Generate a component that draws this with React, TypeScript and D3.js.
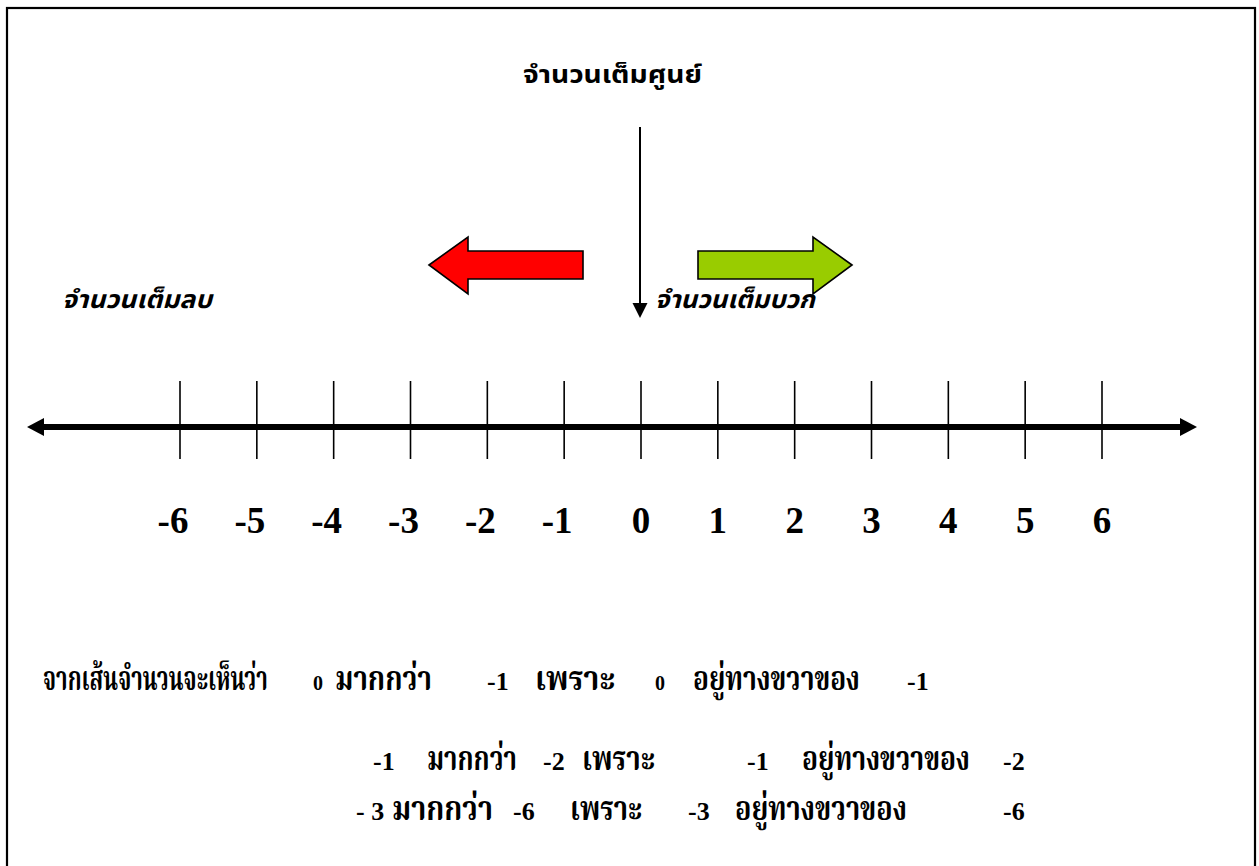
import React, { useLayoutEffect, useRef, useState } from "react";
import * as d3 from "d3";

const W = 1259;
const H = 866;

// ---- data ----
const tickValues = [-6, -5, -4, -3, -2, -1, 0, 1, 2, 3, 4, 5, 6];
const tickLabels = ["-6", "-5", "-4", "-3", "-2", "-1", "0", "1", "2", "3", "4", "5", "6"];
const titleText = "จำนวนเต็มศูนย์";
const negText = "จำนวนเต็มลบ";
const posText = "จำนวนเต็มบวก";
const line1 = ["จากเส้นจำนวนจะเห็นว่า", "0", "มากกว่า", "-1", "เพราะ", "0", "อยู่ทางขวาของ", "-1"];
const line2 = ["-1", "มากกว่า", "-2", "เพราะ", "-1", "อยู่ทางขวาของ", "-2"];
const line3 = ["- 3", "มากกว่า", "-6", "เพราะ", "-3", "อยู่ทางขวาของ", "-6"];

// ---- layout (segment start / end in px) ----
const line1Pos = [[43, 268], [313, 323], [335, 432], [487, 508], [535, 615], [655, 665], [693, 860], [907, 925]];
const line2Pos = [[373, 395], [427, 517], [543, 567], [582, 655], [747, 770], [802, 970], [1003, 1025]];
const line3Pos = [[356, 385], [392, 493], [513, 537], [570, 642], [688, 712], [735, 907], [1003, 1025]];

const thaiSans = "Tahoma, 'Noto Sans Thai', Loma, Garuda, 'Tlwg Typo', 'DejaVu Sans', 'Noto Sans', sans-serif";
const thaiSerif = "'Angsana New', 'AngsanaUPC', 'TH Sarabun New', Kinnari, Norasi, Laksaman, 'Noto Serif Thai', 'Liberation Serif', serif";
const numSerif = "'Liberation Serif', 'Times New Roman', serif";

const isNum = (s: string) => /^[-\s\d]+$/.test(s);

type FitProps = {
  x: number;
  y: number;
  w: number;
  family: string;
  size: number;
  italic?: boolean;
  text: string;
};

function FitText({ x, y, w, family, size, italic, text }: FitProps) {
  const ref = useRef<SVGTextElement>(null);
  const [sx, setSx] = useState(1);
  useLayoutEffect(() => {
    const el = ref.current;
    if (!el) return;
    const n = el.getComputedTextLength();
    if (n > 0) setSx(w / n);
  }, [w, text, family, size]);
  return (
    <text
      ref={ref}
      transform={`translate(${x},${y}) scale(${sx},1)`}
      fontFamily={family}
      fontWeight="bold"
      fontStyle={italic ? "italic" : "normal"}
      fontSize={size}
      fill="#000"
    >
      {text}
    </text>
  );
}

function Line({ segs, pos, y, smallZero }: { segs: string[]; pos: number[][]; y: number; smallZero?: boolean }) {
  return (
    <g>
      {segs.map((s, i) => {
        const num = isNum(s);
        const [x0, x1] = pos[i];
        if (num) {
          const fs = smallZero && s === "0" ? 20 : 26;
          return (
            <text key={i} x={x0} y={y} fontFamily={numSerif} fontWeight="bold" fontSize={fs} fill="#000">
              {s}
            </text>
          );
        }
        return <FitText key={i} x={x0} y={y} w={x1 - x0} family={thaiSerif} size={33} text={s} />;
      })}
    </g>
  );
}

export default function App() {
  const x = d3.scaleLinear().domain([-6, 6]).range([180, 1102]);
  const axisY = 427;
  const tickTop = 381;
  const tickBot = 459;
  const zeroX = x(0) - 1;

  const leftArrowTip = 27;
  const rightArrowTip = 1197;
  const headLen = 17;
  const headHalf = 9;

  const redArrow = d3.line()([
    [429, 265], [468, 237], [468, 251], [583, 251], [583, 279], [468, 279], [468, 294],
  ]) + "Z";
  const greenArrow = d3.line()([
    [852, 265], [813, 237], [813, 251], [698, 251], [698, 279], [813, 279], [813, 294],
  ]) + "Z";

  return (
    <svg
      width={W}
      height={H}
      style={{ position: "absolute", left: 0, top: 0, display: "block", background: "#fff" }}
    >
      <rect x={0} y={0} width={W} height={H} fill="#fff" />
      {/* frame */}
      <rect x={7} y={8} width={1248} height={900} fill="none" stroke="#000" strokeWidth={2.2} />

      {/* title */}
      <FitText x={523} y={83} w={179} family={thaiSans} size={25} text={titleText} />

      {/* vertical arrow to zero */}
      <line x1={zeroX} x2={zeroX} y1={127} y2={305} stroke="#000" strokeWidth={2} />
      <path d={`M${zeroX - 7.5},303 L${zeroX + 7.5},303 L${zeroX},318 Z`} fill="#000" />

      {/* direction arrows */}
      <path d={redArrow} fill="#ff0000" stroke="#000" strokeWidth={1.6} strokeLinejoin="miter" />
      <path d={greenArrow} fill="#99cc00" stroke="#000" strokeWidth={1.6} strokeLinejoin="miter" />

      {/* side labels */}
      <FitText x={62} y={308} w={150} family={thaiSans} size={25} italic text={negText} />
      <FitText x={655} y={308} w={160} family={thaiSans} size={25} italic text={posText} />

      {/* number line */}
      <line x1={leftArrowTip + headLen - 2} x2={rightArrowTip - headLen + 2} y1={axisY} y2={axisY}
        stroke="#000" strokeWidth={6} />
      <path d={`M${leftArrowTip},${axisY} L${leftArrowTip + headLen},${axisY - headHalf} L${leftArrowTip + headLen},${axisY + headHalf} Z`} fill="#000" />
      <path d={`M${rightArrowTip},${axisY} L${rightArrowTip - headLen},${axisY - headHalf} L${rightArrowTip - headLen},${axisY + headHalf} Z`} fill="#000" />

      {tickValues.map((v) => (
        <line key={`t${v}`} x1={x(v)} x2={x(v)} y1={tickTop} y2={tickBot} stroke="#000" strokeWidth={1.6} />
      ))}
      {tickValues.map((v, i) => (
        <text key={`l${v}`} x={v < 0 ? x(v) - 7 : x(v)} y={533} textAnchor="middle"
          fontFamily={numSerif} fontWeight="bold" fontSize={37}>{tickLabels[i]}</text>
      ))}

      {/* explanation */}
      <Line segs={line1} pos={line1Pos} y={690} smallZero />
      <Line segs={line2} pos={line2Pos} y={770} />
      <Line segs={line3} pos={line3Pos} y={820} />
    </svg>
  );
}
